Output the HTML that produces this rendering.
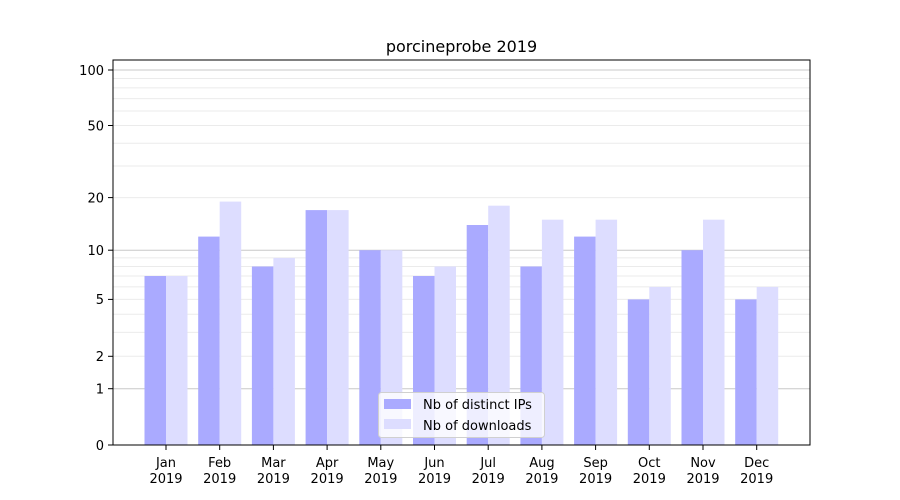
<!DOCTYPE html>
<html><head><meta charset="utf-8"><style>body{margin:0;background:#fff}svg{display:block;font-family:"DejaVu Sans","Liberation Sans",sans-serif}</style></head><body>
<svg width="900" height="500" xmlns="http://www.w3.org/2000/svg">
<rect width="900" height="500" fill="#fff"/>
<g stroke="#ebebeb" stroke-width="1">
<line x1="113" x2="810" y1="332.4" y2="332.4"/><line x1="113" x2="810" y1="314.2" y2="314.2"/>
<line x1="113" x2="810" y1="356.3" y2="356.3"/><line x1="113" x2="810" y1="299.4" y2="299.4"/>
<line x1="113" x2="810" y1="286.9" y2="286.9"/><line x1="113" x2="810" y1="276" y2="276"/>
<line x1="113" x2="810" y1="266.5" y2="266.5"/><line x1="113" x2="810" y1="257.9" y2="257.9"/>
<line x1="113" x2="810" y1="197.6" y2="197.6"/><line x1="113" x2="810" y1="166" y2="166"/>
<line x1="113" x2="810" y1="143.2" y2="143.2"/><line x1="113" x2="810" y1="125.5" y2="125.5"/>
<line x1="113" x2="810" y1="111" y2="111"/><line x1="113" x2="810" y1="98.6" y2="98.6"/>
<line x1="113" x2="810" y1="87.9" y2="87.9"/><line x1="113" x2="810" y1="78.5" y2="78.5"/>
</g>
<g stroke="#c8c8c8" stroke-width="1">
<line x1="113" x2="810" y1="388.7" y2="388.7"/><line x1="113" x2="810" y1="250.2" y2="250.2"/><line x1="113" x2="810" y1="70" y2="70"/>
</g>
<g>
<rect x="144.5" y="276" width="21.5" height="169" fill="#aaaaff"/><rect x="166" y="276" width="21.5" height="169" fill="#ddddff"/>
<rect x="198.2" y="236.6" width="21.5" height="208.4" fill="#aaaaff"/><rect x="219.7" y="201.6" width="21.5" height="243.4" fill="#ddddff"/>
<rect x="251.9" y="266.5" width="21.5" height="178.5" fill="#aaaaff"/><rect x="273.4" y="257.9" width="21.5" height="187.1" fill="#ddddff"/>
<rect x="305.6" y="210.1" width="21.5" height="234.9" fill="#aaaaff"/><rect x="327.1" y="210.1" width="21.5" height="234.9" fill="#ddddff"/>
<rect x="359.3" y="250.2" width="21.5" height="194.8" fill="#aaaaff"/><rect x="380.8" y="250.2" width="21.5" height="194.8" fill="#ddddff"/>
<rect x="413" y="276" width="21.5" height="169" fill="#aaaaff"/><rect x="434.5" y="266.5" width="21.5" height="178.5" fill="#ddddff"/>
<rect x="466.7" y="225" width="21.5" height="220" fill="#aaaaff"/><rect x="488.2" y="205.7" width="21.5" height="239.3" fill="#ddddff"/>
<rect x="520.4" y="266.5" width="21.5" height="178.5" fill="#aaaaff"/><rect x="541.9" y="219.7" width="21.5" height="225.3" fill="#ddddff"/>
<rect x="574.1" y="236.6" width="21.5" height="208.4" fill="#aaaaff"/><rect x="595.6" y="219.7" width="21.5" height="225.3" fill="#ddddff"/>
<rect x="627.8" y="299.4" width="21.5" height="145.6" fill="#aaaaff"/><rect x="649.3" y="286.9" width="21.5" height="158.1" fill="#ddddff"/>
<rect x="681.5" y="250.2" width="21.5" height="194.8" fill="#aaaaff"/><rect x="703" y="219.7" width="21.5" height="225.3" fill="#ddddff"/>
<rect x="735.2" y="299.4" width="21.5" height="145.6" fill="#aaaaff"/><rect x="756.7" y="286.9" width="21.5" height="158.1" fill="#ddddff"/>
</g>
<rect x="113" y="60" width="697" height="385" fill="none" stroke="#000" stroke-width="1"/>
<g stroke="#000">
<line x1="108" x2="113" y1="445" y2="445"/><line x1="108" x2="113" y1="388.7" y2="388.7"/><line x1="108" x2="113" y1="356.3" y2="356.3"/>
<line x1="108" x2="113" y1="299.4" y2="299.4"/><line x1="108" x2="113" y1="250.2" y2="250.2"/><line x1="108" x2="113" y1="197.6" y2="197.6"/>
<line x1="108" x2="113" y1="125.5" y2="125.5"/><line x1="108" x2="113" y1="70" y2="70"/>
</g>
<g font-size="13" text-anchor="end" fill="#000">
<text x="104" y="450">0</text><text x="104" y="393.5">1</text><text x="104" y="361">2</text><text x="104" y="304">5</text>
<text x="104" y="255">10</text><text x="104" y="202.5">20</text><text x="104" y="130.5">50</text><text x="104" y="75">100</text>
</g>
<g stroke="#000">
<line x1="166" x2="166" y1="445" y2="450"/><line x1="219.7" x2="219.7" y1="445" y2="450"/><line x1="273.4" x2="273.4" y1="445" y2="450"/>
<line x1="327.1" x2="327.1" y1="445" y2="450"/><line x1="380.8" x2="380.8" y1="445" y2="450"/><line x1="434.5" x2="434.5" y1="445" y2="450"/>
<line x1="488.2" x2="488.2" y1="445" y2="450"/><line x1="541.9" x2="541.9" y1="445" y2="450"/><line x1="595.6" x2="595.6" y1="445" y2="450"/>
<line x1="649.3" x2="649.3" y1="445" y2="450"/><line x1="703" x2="703" y1="445" y2="450"/><line x1="756.7" x2="756.7" y1="445" y2="450"/>
</g>
<g font-size="13" text-anchor="middle" fill="#000">
<text x="166" y="467">Jan</text><text x="166" y="483">2019</text>
<text x="219.7" y="467">Feb</text><text x="219.7" y="483">2019</text>
<text x="273.4" y="467">Mar</text><text x="273.4" y="483">2019</text>
<text x="327.1" y="467">Apr</text><text x="327.1" y="483">2019</text>
<text x="380.8" y="467">May</text><text x="380.8" y="483">2019</text>
<text x="434.5" y="467">Jun</text><text x="434.5" y="483">2019</text>
<text x="488.2" y="467">Jul</text><text x="488.2" y="483">2019</text>
<text x="541.9" y="467">Aug</text><text x="541.9" y="483">2019</text>
<text x="595.6" y="467">Sep</text><text x="595.6" y="483">2019</text>
<text x="649.3" y="467">Oct</text><text x="649.3" y="483">2019</text>
<text x="703" y="467">Nov</text><text x="703" y="483">2019</text>
<text x="756.7" y="467">Dec</text><text x="756.7" y="483">2019</text>
</g>
<text x="461.5" y="52" font-size="16" text-anchor="middle">porcineprobe 2019</text>
<rect x="378.5" y="392.5" width="166" height="45" rx="3" fill="#fff" fill-opacity="0.8" stroke="#d0d0d0"/>
<rect x="384" y="399" width="27" height="10" fill="#aaaaff"/>
<rect x="384" y="419" width="27" height="10" fill="#ddddff"/>
<text x="423" y="409" font-size="13">Nb of distinct IPs</text>
<text x="423" y="430" font-size="13">Nb of downloads</text>
</svg>
</body></html>
